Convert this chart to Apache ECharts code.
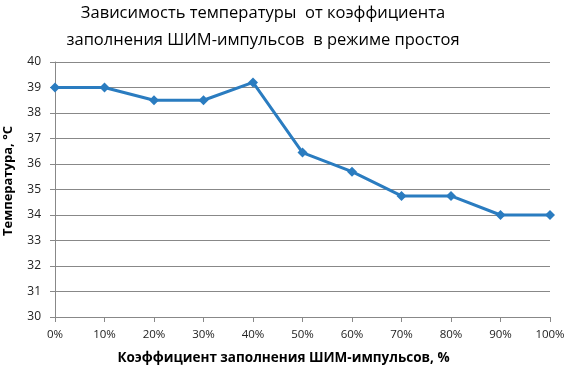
<!DOCTYPE html>
<html><head><meta charset="utf-8">
<script src="https://cdn.jsdelivr.net/npm/echarts@6/dist/echarts.min.js"></script>
<style>html,body{margin:0;padding:0;background:#fff}#c{width:565px;height:371px}</style>
</head><body><div id="c"></div>
<script>
const categories = ['0%','10%','20%','30%','40%','50%','60%','70%','80%','90%','100%'];
const temperatures = [39, 39, 38.5, 38.5, 39.2, 36.45, 35.7, 34.75, 34.75, 34, 34];
const titleText = 'Зависимость температуры  от коэффициента\nзаполнения ШИМ-импульсов  в режиме простоя';
const xName = 'Коэффициент заполнения ШИМ-импульсов, %';
const yName = 'Температура, °C';

const chart = echarts.init(document.getElementById('c'));
chart.setOption({
  backgroundColor: '#fff',
  animation: false,
  title: {
    text: titleText, left: 263, textAlign: 'center', top: 0, padding: 0,
    textStyle: { fontFamily: 'Open Sans', fontSize: 16.5, fontWeight: 'normal', color: '#000', lineHeight: 27 }
  },
  grid: { left: 55, right: 15, top: 62, bottom: 54, containLabel: false, outerBoundsMode: 'none' },
  xAxis: {
    type: 'category', data: categories, boundaryGap: false,
    name: xName, nameLocation: 'middle', nameGap: 34,
    nameTextStyle: { fontFamily: 'Open Sans', fontWeight: 'bold', fontSize: 13.5, color: '#000', padding: [0, 38, 0, 0] },
    axisLine: { lineStyle: { color: '#888', width: 1 } },
    axisTick: { show: true, length: 5, lineStyle: { color: '#888' } },
    axisLabel: { fontFamily: 'Open Sans', fontSize: 11.5, color: '#222', margin: 12 }
  },
  yAxis: {
    type: 'value', min: 30, max: 40, interval: 1,
    name: yName, nameLocation: 'middle', nameGap: 40, nameRotate: 90,
    nameTextStyle: { fontFamily: 'Open Sans', fontWeight: 'bold', fontSize: 13, color: '#000', padding: [0, 0, 0, 17] },
    axisLine: { show: true, lineStyle: { color: '#888', width: 1 } },
    axisTick: { show: true, length: 5, lineStyle: { color: '#888' } },
    axisLabel: { fontFamily: 'Open Sans', fontSize: 12, color: '#222', margin: 14 },
    splitLine: { lineStyle: { color: '#888', width: 1 } }
  },
  series: [{
    type: 'line', data: temperatures,
    symbol: 'diamond', symbolSize: 10,
    lineStyle: { color: '#2a7cc0', width: 3 },
    itemStyle: { color: '#2a7cc0' }
  }]
});
</script></body></html>
